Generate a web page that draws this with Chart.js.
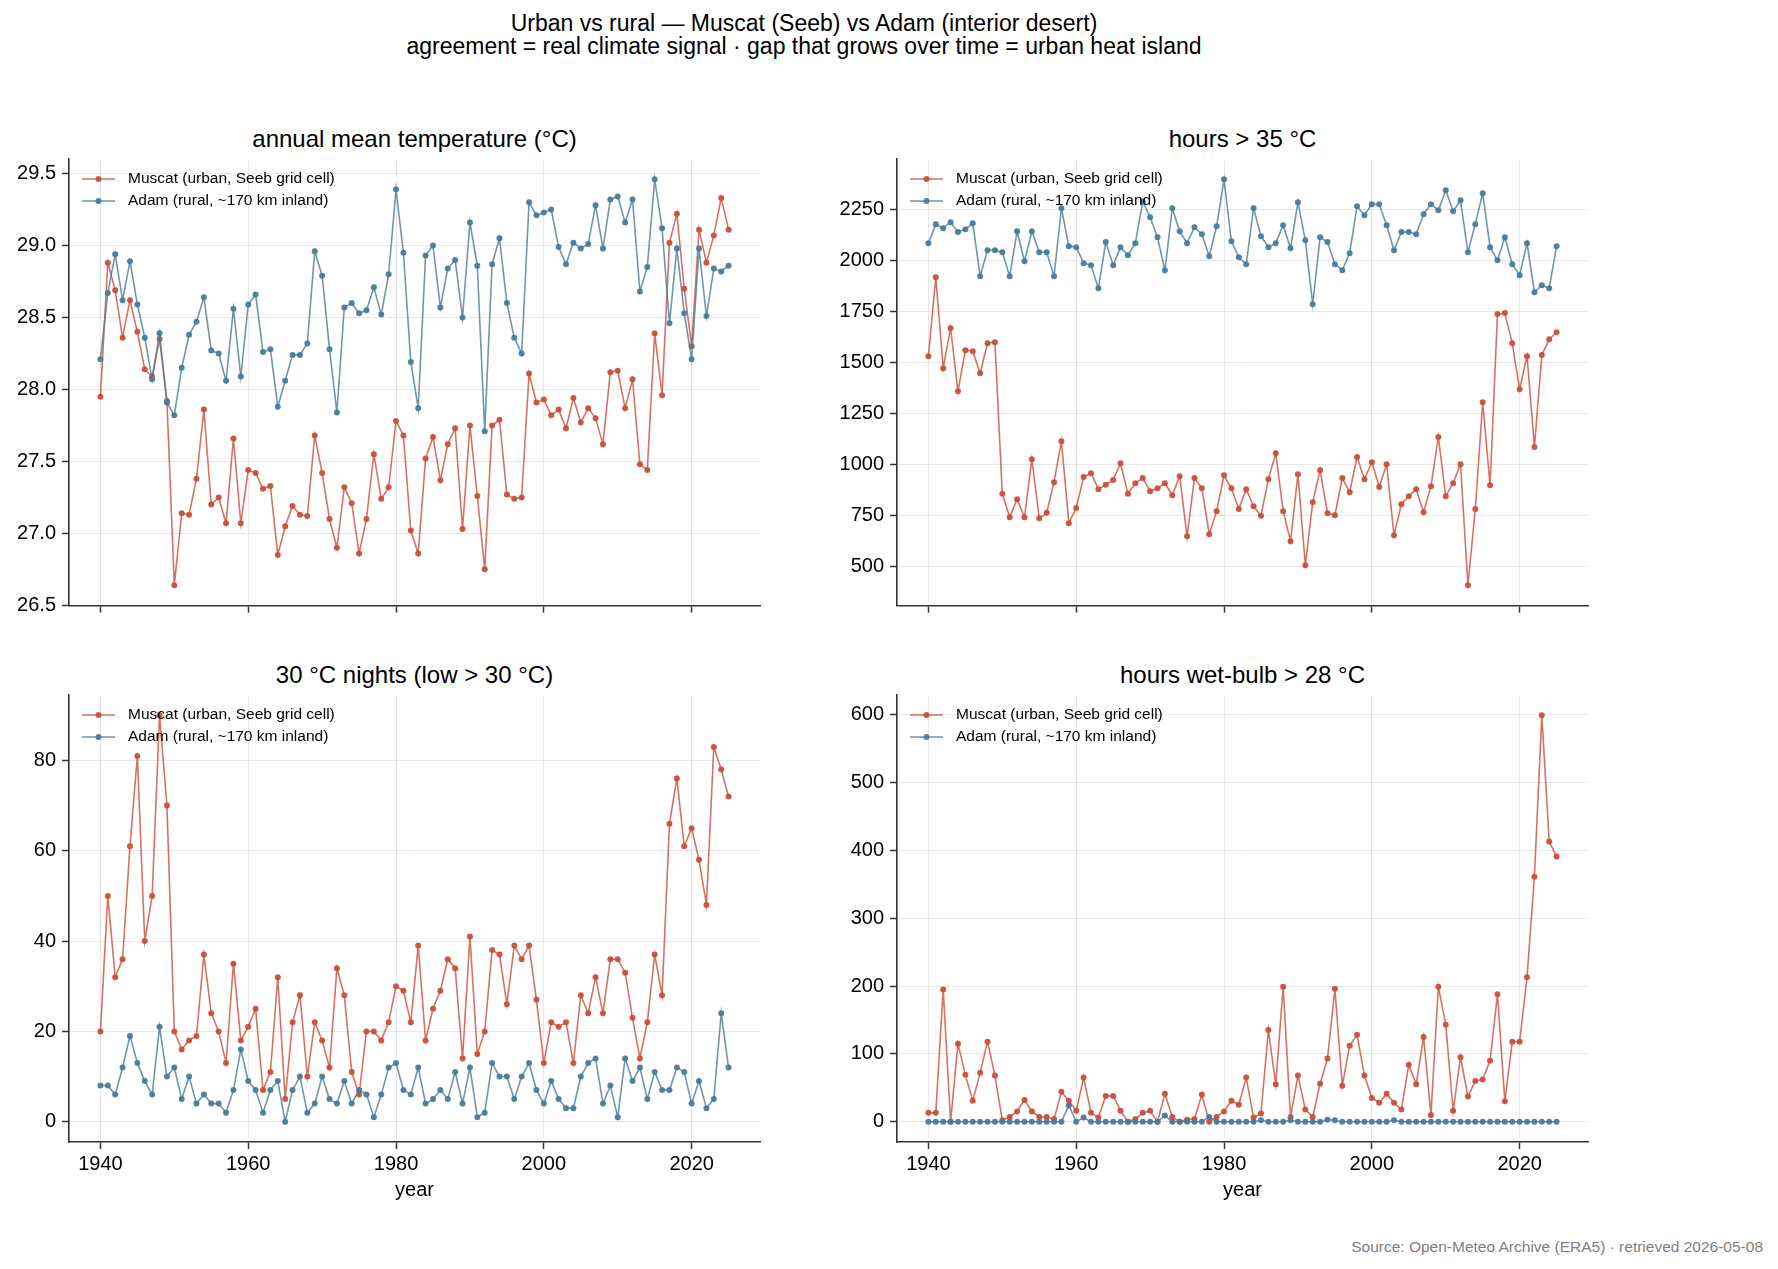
<!DOCTYPE html>
<html>
<head>
<meta charset="utf-8">
<title>Urban vs rural — Muscat (Seeb) vs Adam</title>
<script src="https://cdn.jsdelivr.net/npm/chart.js@4.4.1/dist/chart.umd.min.js"></script>
<style>
  html, body { margin: 0; padding: 0; background: #fff; }
  body { width: 1778px; height: 1269px; position: relative; overflow: hidden;
         font-family: 'Liberation Sans', Arial, Helvetica, sans-serif; color: #000; }
  .sup { position: absolute; left: 0; width: 1608px; text-align: center; font-size: 23px; line-height: 24px; white-space: nowrap; }
  .ptitle { position: absolute; width: 700px; text-align: center; font-size: 24px; line-height: 24px; white-space: nowrap; }
  .panel { position: absolute; width: 790px; }
  .source { position: absolute; right: 15px; top: 1238px; font-size: 15.5px; line-height: 18px; color: #808080; white-space: nowrap; }
</style>
</head>
<body>
<div class="sup" style="top:11px">Urban vs rural — Muscat (Seeb) vs Adam (interior desert)</div>
<div class="sup" style="top:34px">agreement = real climate signal · gap that grows over time = urban heat island</div>

<div class="ptitle" style="left:64.5px; top:127px">annual mean temperature (°C)</div>
<div class="ptitle" style="left:892.5px; top:127px">hours &gt; 35 °C</div>
<div class="ptitle" style="left:64.5px; top:663px">30 °C nights (low &gt; 30 °C)</div>
<div class="ptitle" style="left:892.5px; top:663px">hours wet-bulb &gt; 28 °C</div>

<div class="panel" style="left:0px; top:150px; height:486px"><canvas id="tempChart"></canvas></div>
<div class="panel" style="left:828px; top:150px; height:486px"><canvas id="hot35Chart"></canvas></div>
<div class="panel" style="left:0px; top:686px; height:516px"><canvas id="nightsChart"></canvas></div>
<div class="panel" style="left:828px; top:686px; height:516px"><canvas id="wetChart"></canvas></div>

<div class="source">Source: Open-Meteo Archive (ERA5) · retrieved 2026-05-08</div>

<script>
// ============================================================================
// DATA
// ============================================================================

const years = [
    1940, 1941, 1942, 1943, 1944, 1945, 1946, 1947, 1948, 1949,
    1950, 1951, 1952, 1953, 1954, 1955, 1956, 1957, 1958, 1959,
    1960, 1961, 1962, 1963, 1964, 1965, 1966, 1967, 1968, 1969,
    1970, 1971, 1972, 1973, 1974, 1975, 1976, 1977, 1978, 1979,
    1980, 1981, 1982, 1983, 1984, 1985, 1986, 1987, 1988, 1989,
    1990, 1991, 1992, 1993, 1994, 1995, 1996, 1997, 1998, 1999,
    2000, 2001, 2002, 2003, 2004, 2005, 2006, 2007, 2008, 2009,
    2010, 2011, 2012, 2013, 2014, 2015, 2016, 2017, 2018, 2019,
    2020, 2021, 2022, 2023, 2024, 2025
];
const yearTicks = [1940, 1960, 1980, 2000, 2020];

// annual mean temperature (°C)
const tempMuscat = [
    27.95, 28.88, 28.69, 28.36, 28.62, 28.40, 28.14, 28.09, 28.35, 27.92,
    26.64, 27.14, 27.13, 27.38, 27.86, 27.20, 27.25, 27.07, 27.66, 27.07,
    27.44, 27.42, 27.31, 27.33, 26.85, 27.05, 27.19, 27.13, 27.12, 27.68,
    27.42, 27.10, 26.90, 27.32, 27.21, 26.86, 27.10, 27.55, 27.24, 27.32,
    27.78, 27.68, 27.02, 26.86, 27.52, 27.67, 27.37, 27.62, 27.73, 27.03,
    27.75, 27.26, 26.75, 27.75, 27.79, 27.27, 27.24, 27.25, 28.11, 27.91,
    27.93, 27.82, 27.86, 27.73, 27.94, 27.77, 27.87, 27.80, 27.62, 28.12,
    28.13, 27.87, 28.07, 27.48, 27.44, 28.39, 27.96, 29.02, 29.22, 28.70,
    28.30, 29.11, 28.88, 29.07, 29.33, 29.11
];
const tempAdam = [
    28.21, 28.67, 28.94, 28.62, 28.89, 28.59, 28.36, 28.07, 28.39, 27.91,
    27.82, 28.15, 28.38, 28.47, 28.64, 28.27, 28.25, 28.06, 28.56, 28.09,
    28.59, 28.66, 28.26, 28.28, 27.88, 28.06, 28.24, 28.24, 28.32, 28.96,
    28.79, 28.28, 27.84, 28.57, 28.60, 28.53, 28.55, 28.71, 28.52, 28.80,
    29.39, 28.95, 28.19, 27.87, 28.93, 29.00, 28.57, 28.84, 28.90, 28.50,
    29.16, 28.86, 27.71, 28.87, 29.05, 28.60, 28.36, 28.25, 29.30, 29.21,
    29.23, 29.25, 28.99, 28.87, 29.02, 28.98, 29.01, 29.28, 28.98, 29.32,
    29.34, 29.16, 29.32, 28.68, 28.85, 29.46, 29.12, 28.46, 28.98, 28.53,
    28.21, 28.98, 28.51, 28.84, 28.82, 28.86
];
const tempTicks = [26.5, 27.0, 27.5, 28.0, 28.5, 29.0, 29.5];

// hours > 35 °C
const hot35Muscat = [
    1533, 1920, 1474, 1670, 1361, 1562, 1557, 1449, 1596, 1601,
    858, 743, 832, 743, 1028, 738, 765, 915, 1116, 714,
    788, 940, 959, 881, 902, 926, 1008, 858, 910, 935,
    871, 885, 910, 851, 944, 650, 935, 885, 660, 773,
    949, 885, 783, 881, 797, 750, 930, 1057, 773, 626,
    954, 508, 817, 974, 763, 753, 935, 866, 1038, 930,
    1013, 891, 1003, 655, 807, 846, 881, 768, 895, 1136,
    846, 910, 1003, 410, 783, 1307, 900, 1739, 1744, 1596,
    1371, 1533, 1087, 1538, 1616, 1650
];
const hot35Adam = [
    2087, 2180, 2160, 2190, 2141, 2155, 2185, 1925, 2052, 2052,
    2042, 1925, 2145, 1998, 2145, 2042, 2042, 1925, 2258, 2072,
    2067, 1989, 1979, 1866, 2092, 1979, 2067, 2028, 2087, 2291,
    2214, 2116, 1954, 2258, 2145, 2087, 2165, 2131, 2023, 2170,
    2400, 2096, 2018, 1984, 2258, 2121, 2067, 2087, 2175, 2062,
    2288, 2101, 1788, 2116, 2092, 1984, 1954, 2038, 2268, 2224,
    2278, 2278, 2175, 2052, 2141, 2141, 2131, 2229, 2278, 2248,
    2346, 2243, 2297, 2042, 2180, 2332, 2067, 2003, 2116, 1984,
    1930, 2087, 1846, 1881, 1866, 2072
];
const hot35Ticks = [500, 750, 1000, 1250, 1500, 1750, 2000, 2250];

// 30 °C nights (low > 30 °C)
const nightsMuscat = [
    20, 50, 32, 36, 61, 81, 40, 50, 90, 70,
    20, 16, 18, 19, 37, 24, 20, 13, 35, 18,
    21, 25, 7, 11, 32, 5, 22, 28, 10, 22,
    18, 12, 34, 28, 11, 6, 20, 20, 18, 22,
    30, 29, 22, 39, 18, 25, 29, 36, 34, 14,
    41, 15, 20, 38, 37, 26, 39, 36, 39, 27,
    13, 22, 21, 22, 13, 28, 24, 32, 24, 36,
    36, 33, 23, 14, 22, 37, 28, 66, 76, 61,
    65, 58, 48, 83, 78, 72
];
const nightsAdam = [
    8, 8, 6, 12, 19, 13, 9, 6, 21, 10,
    12, 5, 10, 4, 6, 4, 4, 2, 7, 16,
    9, 7, 2, 7, 9, 0, 7, 10, 2, 4,
    10, 5, 4, 9, 4, 7, 6, 1, 6, 12,
    13, 7, 6, 12, 4, 5, 7, 5, 11, 4,
    12, 1, 2, 13, 10, 10, 5, 10, 13, 7,
    4, 9, 5, 3, 3, 10, 13, 14, 4, 8,
    1, 14, 9, 12, 5, 11, 7, 7, 12, 11,
    4, 9, 3, 5, 24, 12
];
const nightsTicks = [0, 20, 40, 60, 80];

// hours wet-bulb > 28 °C
const wetMuscat = [
    13, 13, 195, 0, 115, 69, 31, 72, 118, 68,
    2, 7, 15, 32, 15, 7, 7, 4, 44, 31,
    16, 65, 13, 6, 38, 38, 16, 0, 4, 13,
    16, 0, 41, 7, 0, 3, 4, 40, 0, 7,
    15, 31, 25, 65, 6, 12, 135, 55, 199, 7,
    68, 18, 7, 56, 93, 196, 53, 112, 128, 68,
    35, 28, 41, 28, 18, 84, 55, 125, 10, 199,
    143, 16, 95, 37, 60, 62, 90, 188, 30, 118,
    118, 213, 361, 599, 413, 391
];
const wetAdam = [
    0, 0, 0, 0, 0, 0, 0, 0, 0, 0,
    0, 0, 0, 0, 0, 0, 0, 0, 0, 24,
    0, 6, 0, 0, 0, 0, 0, 0, 0, 0,
    0, 0, 9, 0, 0, 0, 0, 0, 7, 0,
    0, 0, 0, 0, 0, 2, 0, 0, 0, 2,
    0, 0, 0, 0, 3, 2, 0, 0, 0, 0,
    0, 0, 0, 2, 0, 0, 0, 0, 0, 0,
    0, 0, 0, 0, 0, 0, 0, 0, 0, 0,
    0, 0, 0, 0, 0, 0
];
const wetTicks = [0, 100, 200, 300, 400, 500, 600];

// ============================================================================
// STYLE
// ============================================================================

const MUSCAT_LABEL = 'Muscat (urban, Seeb grid cell)';
const ADAM_LABEL = 'Adam (rural, ~170 km inland)';
const MUSCAT_LINE = 'rgba(201, 80, 60, 0.8)';
const MUSCAT_DOT = 'rgba(201, 80, 60, 0.95)';
const ADAM_LINE = 'rgba(74, 124, 155, 0.8)';
const ADAM_DOT = 'rgba(74, 124, 155, 0.95)';
const AXIS_COLOR = '#333333';
const GRID_COLOR = 'rgba(0, 0, 0, 0.09)';
const FONT = "'Liberation Sans', Arial, Helvetica, sans-serif";

Chart.defaults.font.family = FONT;
Chart.defaults.color = '#000';

// matplotlib-style 5% margins around the data
function paddedRange(values) {
    const lo = Math.min(...values);
    const hi = Math.max(...values);
    const pad = (hi - lo) * 0.05;
    return [lo - pad, hi + pad];
}

// legend drawn inside the axes, top-left, no frame
const insetLegend = {
    id: 'insetLegend',
    afterDatasetsDraw(chart) {
        const {ctx, chartArea} = chart;
        ctx.save();
        chart.data.datasets.forEach((ds, i) => {
            const y = chartArea.top + 20 + i * 22;
            const x0 = chartArea.left + 13;
            ctx.strokeStyle = ds.borderColor;
            ctx.lineWidth = ds.borderWidth;
            ctx.beginPath();
            ctx.moveTo(x0, y);
            ctx.lineTo(x0 + 33, y);
            ctx.stroke();
            ctx.fillStyle = ds.pointBackgroundColor;
            ctx.beginPath();
            ctx.arc(x0 + 16.5, y, ds.pointRadius, 0, Math.PI * 2);
            ctx.fill();
            ctx.fillStyle = '#000';
            ctx.font = '15.5px ' + FONT;
            ctx.textBaseline = 'middle';
            ctx.textAlign = 'left';
            ctx.fillText(ds.label, x0 + 46, y);
        });
        ctx.restore();
    }
};

function series(label, values, lineColor, dotColor, order) {
    return {
        label: label,
        data: years.map((yr, i) => ({x: yr, y: values[i]})),
        borderColor: lineColor,
        borderWidth: 1.6,
        pointRadius: 3,
        pointHoverRadius: 3,
        pointBackgroundColor: dotColor,
        pointBorderWidth: 0,
        tension: 0,
        order: order
    };
}

// ============================================================================
// PANELS
// ============================================================================

function makeChart(canvasId, muscatValues, adamValues, yTicks, formatY, isBottom) {
    const [xMin, xMax] = paddedRange(years);
    const [yMin, yMax] = paddedRange(muscatValues.concat(adamValues));

    return new Chart(document.getElementById(canvasId), {
        type: 'line',
        data: {
            datasets: [
                series(MUSCAT_LABEL, muscatValues, MUSCAT_LINE, MUSCAT_DOT, 1),
                series(ADAM_LABEL, adamValues, ADAM_LINE, ADAM_DOT, 0)
            ]
        },
        options: {
            animation: false,
            responsive: true,
            maintainAspectRatio: false,
            devicePixelRatio: 1,
            layout: { padding: { top: 9, right: 30, bottom: 0, left: 0 } },
            plugins: {
                legend: { display: false },
                tooltip: { enabled: false }
            },
            scales: {
                x: {
                    type: 'linear',
                    bounds: 'data',
                    min: xMin,
                    max: xMax,
                    afterBuildTicks: s => { s.ticks = yearTicks.map(v => ({value: v})); },
                    afterFit: s => {
                        s.height = isBottom ? 60 : 30.5;
                        s.paddingLeft = 0;
                        s.paddingRight = 0;
                    },
                    ticks: {
                        display: isBottom,
                        autoSkip: false,
                        maxRotation: 0,
                        padding: 3,
                        color: '#000',
                        font: { size: 20 },
                        callback: v => String(v)
                    },
                    grid: { color: GRID_COLOR, lineWidth: 1, tickColor: AXIS_COLOR, tickLength: 7, tickWidth: 1.5 },
                    border: { display: true, color: AXIS_COLOR, width: 1.6 },
                    title: { display: isBottom, text: 'year', color: '#000', font: { size: 20 }, padding: 0 }
                },
                y: {
                    bounds: 'data',
                    min: yMin,
                    max: yMax,
                    afterBuildTicks: s => { s.ticks = yTicks.map(v => ({value: v})); },
                    afterFit: s => {
                        s.width = 69;
                        s.paddingTop = 0;
                        s.paddingBottom = 0;
                    },
                    ticks: {
                        autoSkip: false,
                        padding: 6,
                        color: '#000',
                        font: { size: 20 },
                        callback: formatY
                    },
                    grid: { color: GRID_COLOR, lineWidth: 1, tickColor: AXIS_COLOR, tickLength: 7, tickWidth: 1.5 },
                    border: { display: true, color: AXIS_COLOR, width: 1.6 }
                }
            }
        },
        plugins: [insetLegend]
    });
}

makeChart('tempChart', tempMuscat, tempAdam, tempTicks, v => v.toFixed(1), false);
makeChart('hot35Chart', hot35Muscat, hot35Adam, hot35Ticks, v => String(v), false);
makeChart('nightsChart', nightsMuscat, nightsAdam, nightsTicks, v => String(v), true);
makeChart('wetChart', wetMuscat, wetAdam, wetTicks, v => String(v), true);
</script>
</body>
</html>
